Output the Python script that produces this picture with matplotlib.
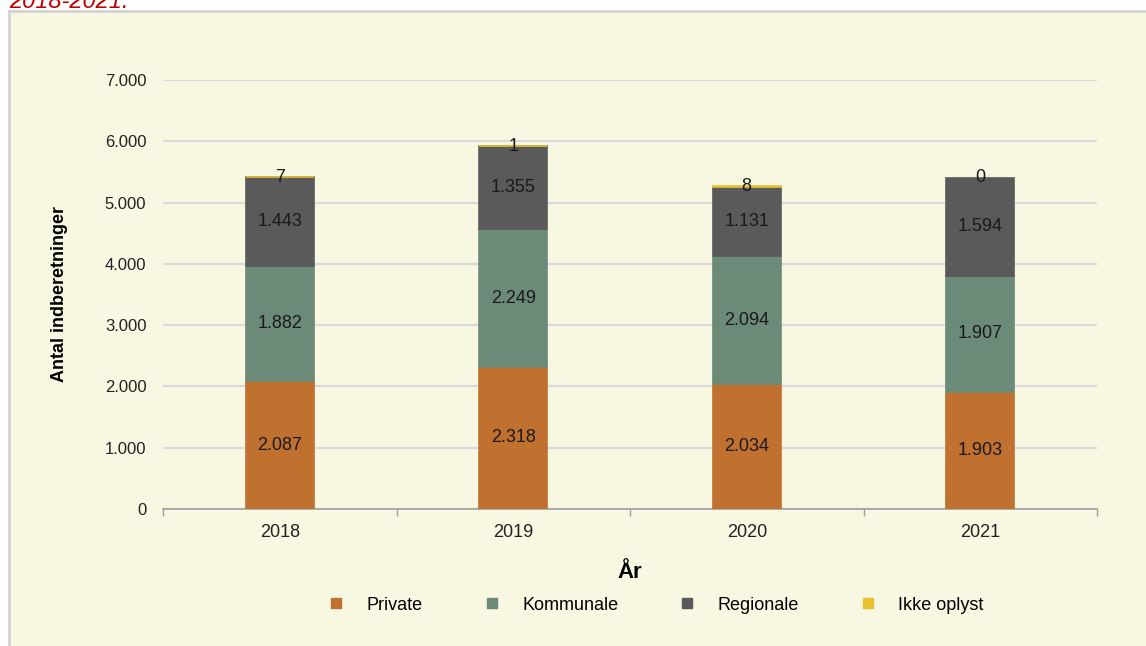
import matplotlib.pyplot as plt
import numpy as np
from matplotlib.lines import Line2D
from matplotlib.patches import Rectangle

plt.rcParams['font.family'] = ['Liberation Sans', 'DejaVu Sans']

# data
years = ['2018', '2019', '2020', '2021']
private = [2087, 2318, 2034, 1903]
kommunale = [1882, 2249, 2094, 1907]
regionale = [1443, 1355, 1131, 1594]
ikke_oplyst = [7, 1, 8, 0]

series = [('Private', private, '#C0702F'),
          ('Kommunale', kommunale, '#6B8A78'),
          ('Regionale', regionale, '#5A5A5A'),
          ('Ikke oplyst', ikke_oplyst, '#E8C030')]

def fmt(v):
    return '{:,}'.format(int(v)).replace(',', '.')

fig = plt.figure(figsize=(11.46, 6.46), dpi=100)
fig.patch.set_facecolor('white')

# beige panel with grey border
W, H = 1146, 646
panel = Rectangle((9 / W, -0.05), 1.2, 1 - 11 / H + 0.05, transform=fig.transFigure,
                  facecolor='#F8F7E1', edgecolor='#D3D3D3', linewidth=2, zorder=-5)
fig.patches.append(panel)

fig.text(9 / W, 1 - 8 / H, '2018-2021.', color='#C00000', style='italic',
         fontsize=17, ha='left', va='baseline')

ax = fig.add_axes([163 / W, 1 - 509 / H, (1097 - 163) / W, (509 - 80) / H])
ax.set_facecolor('none')

x = np.arange(len(years))
bottom = np.zeros(len(years))
for name, vals, col in series:
    vals = np.array(vals, dtype=float)
    # tiny segments still show as a thin line, like the original
    lw = [1.2 if v > 0 else 0 for v in vals]
    ax.bar(x, vals, width=0.29, bottom=bottom, color=col, edgecolor=col,
           linewidth=lw, zorder=3, label=name)
    for xi, b, v in zip(x, bottom, vals):
        ax.text(xi, b + v / 2, fmt(v), ha='center', va='center', fontsize=13,
                color='#1A1A1A', zorder=4)
    bottom += vals

ax.set_xlim(-0.5, 3.5)
ax.set_ylim(0, 7000)
ax.set_yticks(np.arange(0, 7001, 1000))
ax.set_yticklabels([fmt(v) for v in np.arange(0, 7001, 1000)], fontsize=12, color='#222222')
ax.yaxis.grid(True, color='#D9D9D9', linewidth=1.6, zorder=0)
ax.set_axisbelow(True)
ax.tick_params(axis='y', length=0, pad=12)

ax.set_xticks(x)
ax.set_xticklabels(years, fontsize=13, color='#222222')
ax.set_xticks(np.arange(-0.5, 3.6, 1), minor=True)
ax.tick_params(axis='x', which='major', length=0, pad=11)
ax.tick_params(axis='x', which='minor', length=5, color='#A0A0A0', width=1)

for s in ['top', 'right', 'left']:
    ax.spines[s].set_visible(False)
ax.spines['bottom'].set_color('#A0A0A0')
ax.spines['bottom'].set_linewidth(1.2)

ax.set_xlabel('År', fontsize=16, fontweight='bold')
ax.xaxis.set_label_coords(0.5, -0.123)
ax.set_ylabel('Antal indberetninger', fontsize=13, fontweight='bold')
ax.yaxis.set_label_coords(-0.1017, 0.5)

handles = [Line2D([], [], marker='s', linestyle='none', markersize=7,
                  markerfacecolor=c, markeredgecolor=c) for _, _, c in series]
fig.legend(handles, [n for n, _, _ in series], loc='center', ncol=4,
           bbox_to_anchor=(0.572, 1 - 605 / H), frameon=False, fontsize=13,
           handlelength=1.0, handletextpad=1.2, columnspacing=3.3)

fig.savefig('out.png', dpi=100)
